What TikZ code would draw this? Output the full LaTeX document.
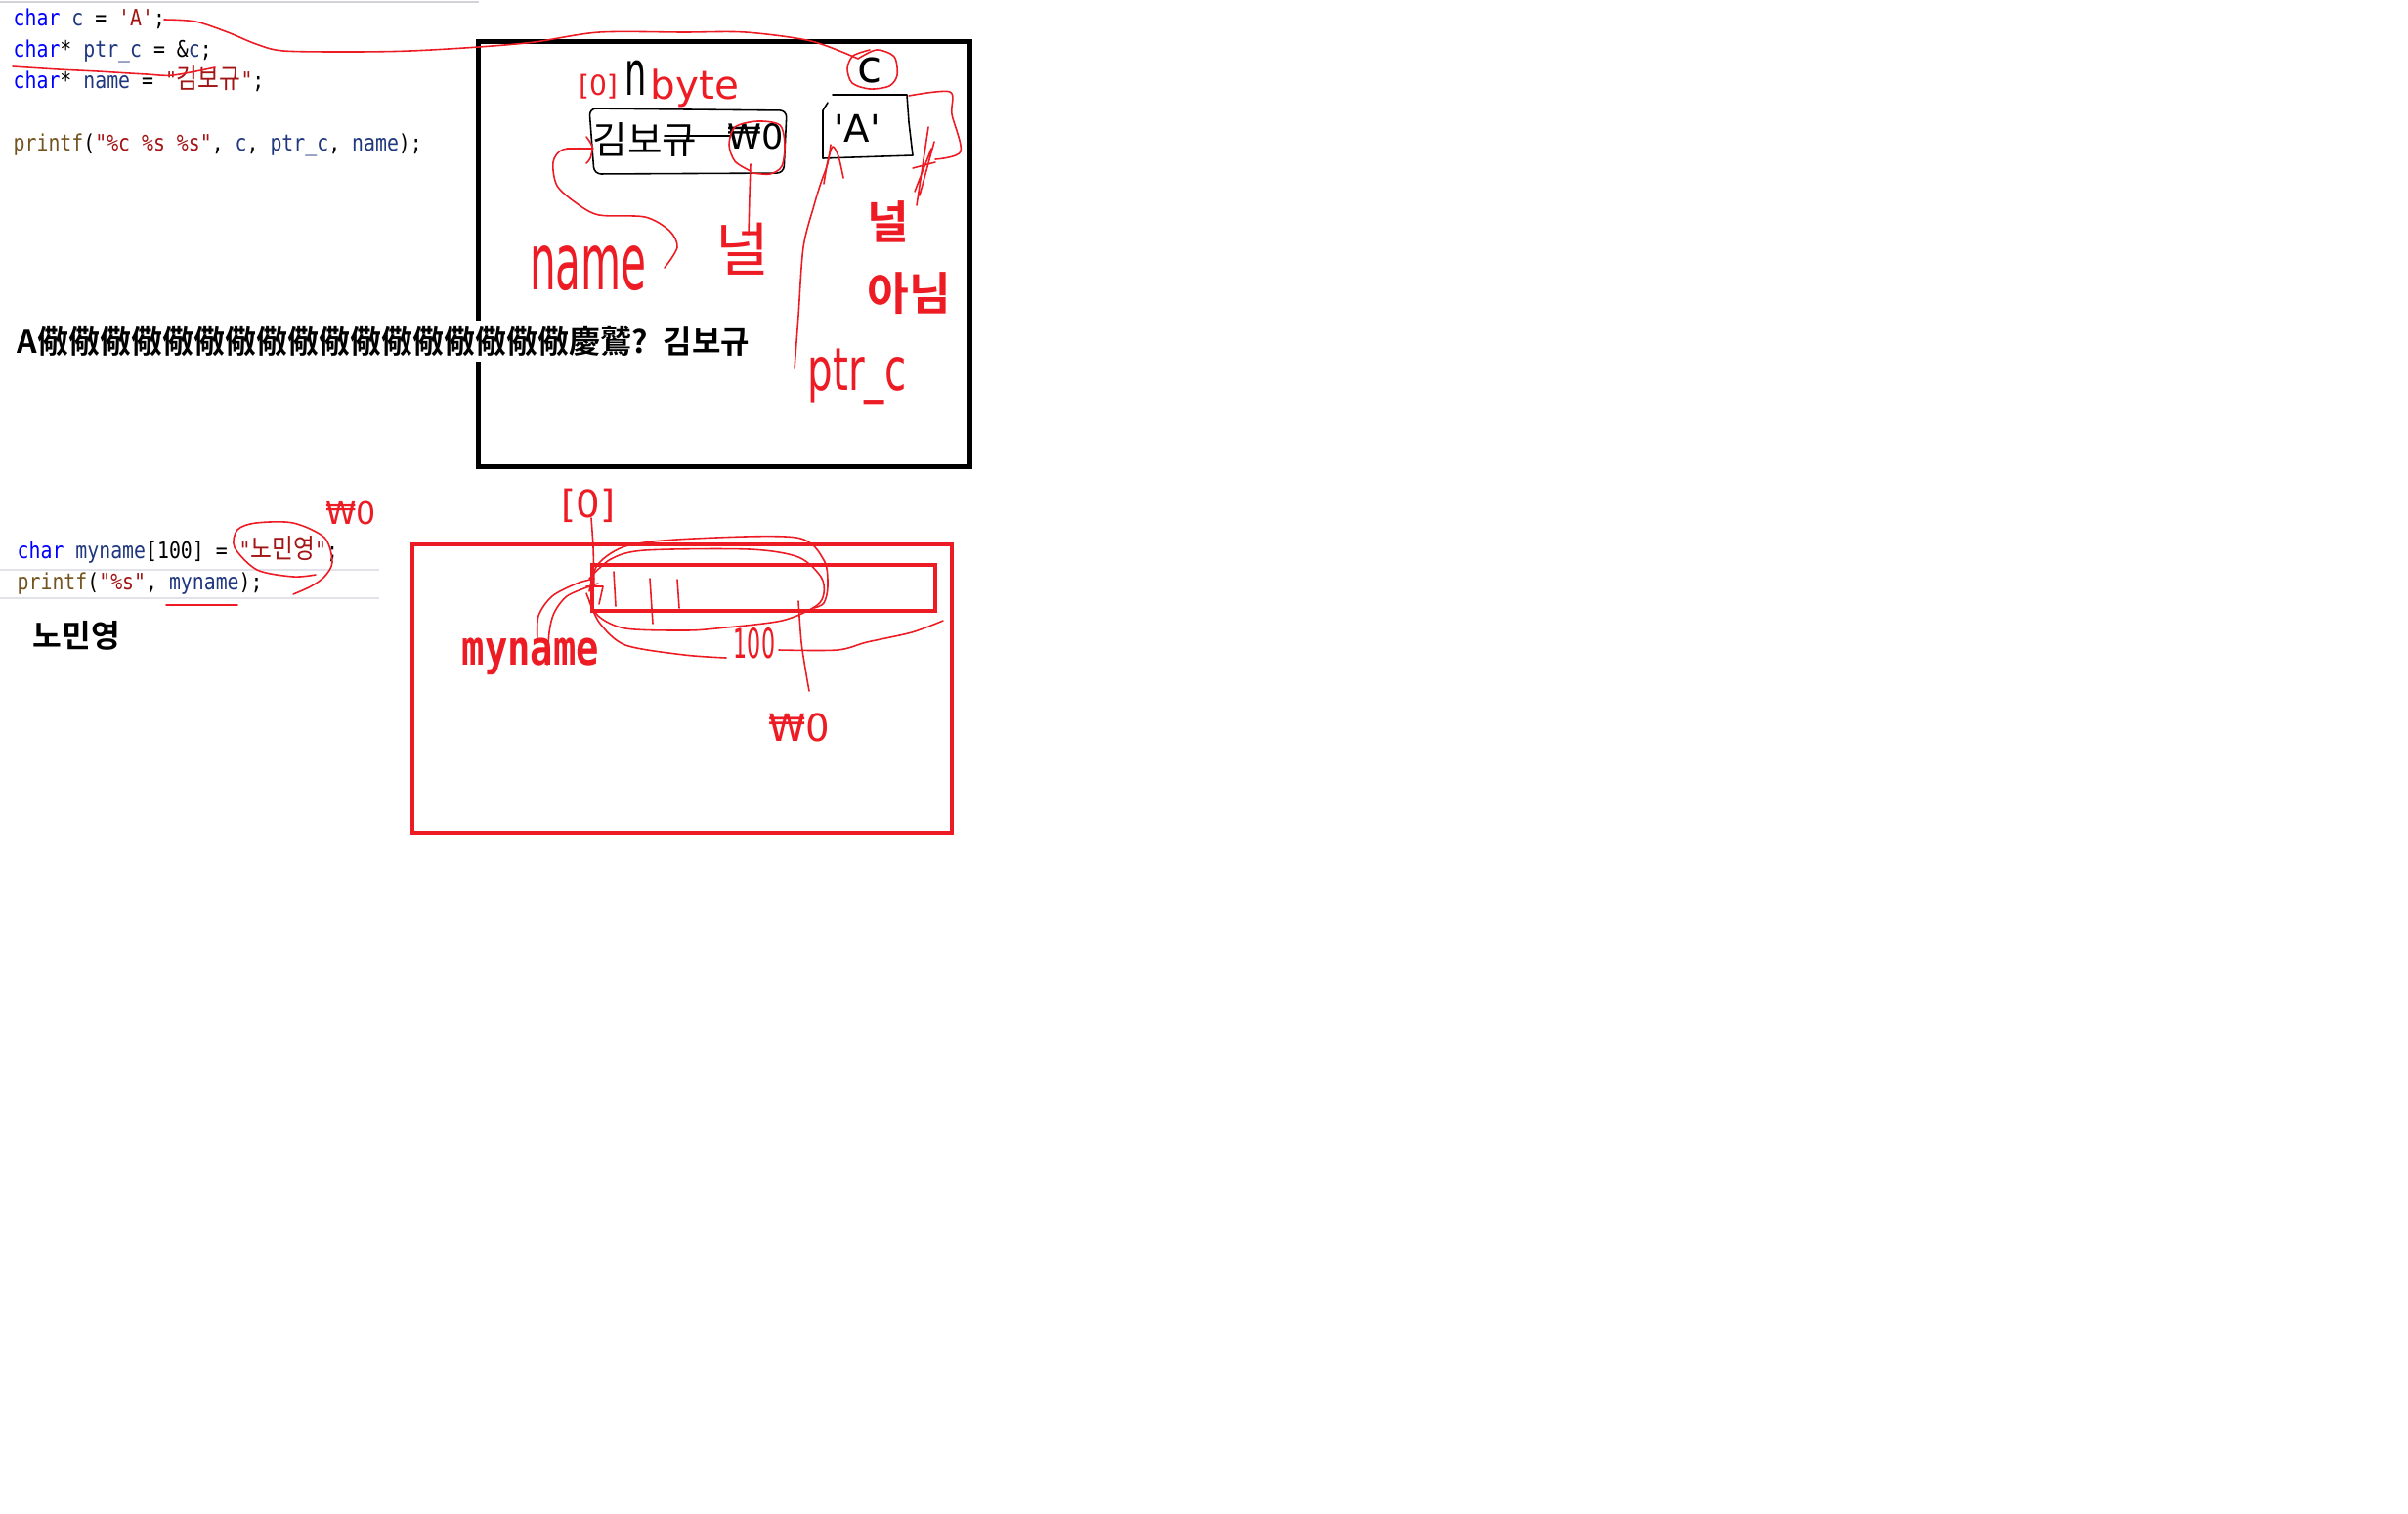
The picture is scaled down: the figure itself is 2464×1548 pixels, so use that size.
\documentclass[tikz,border=0pt]{standalone}
\usepackage{fontspec}
\usepackage{graphicx}
\newfontfamily\codefont{DejaVu Sans Mono}
\newfontfamily\krfont{Noto Sans CJK KR}[BoldFont={Noto Sans CJK KR Bold}]
\newfontfamily\handfont{DejaVu Sans}

\definecolor{kwblue}{HTML}{0000FF}
\definecolor{varnavy}{HTML}{1F377F}
\definecolor{strred}{HTML}{A31515}
\definecolor{fnbrown}{HTML}{74531F}
\definecolor{paintred}{HTML}{ED1C24}
\definecolor{edgegray}{HTML}{D2D2DA}
\definecolor{rowgray}{HTML}{E2E2EA}

% code colouring
\newcommand{\kw}[1]{\textcolor{kwblue}{#1}}
\newcommand{\vn}[1]{\textcolor{varnavy}{#1}}
\newcommand{\strlit}[1]{\textcolor{strred}{#1}}
\newcommand{\fnname}[1]{\textcolor{fnbrown}{#1}}
\newcommand{\sq}{\symbol{39}}
\newcommand{\dq}{\symbol{34}}
\newcommand{\hg}[1]{{\krfont\fontsize{7.9}{9}\selectfont #1}}
\newcommand{\codeline}[1]{\scalebox{0.855}[1]{\codefont\fontsize{6.6}{7.5}\selectfont #1}}
\newcommand{\handsz}[1]{\fontsize{#1}{#1}\selectfont}

\begin{document}
\begin{tikzpicture}[x=0.01cm,y=-0.01cm,
  code/.style={anchor=base west,inner sep=0pt},
  pen/.style={draw=paintred,line width=0.45pt,line cap=round,line join=round},
  inkpen/.style={draw=black,line width=0.45pt,line cap=round,line join=round},
  hand/.style={inner sep=0pt,text=paintred,font=\handfont},
  inkhand/.style={inner sep=0pt,text=black,font=\handfont},
  painted/.style={draw=paintred,line width=1.3pt}]
\useasboundingbox (0,0) rectangle (2464,1548);
\fill[white] (0,0) rectangle (2464,1548);

% editor, first snippet
\draw[edgegray,line width=0.45pt] (0,2) -- (490,2);
\node[code] (line1) at (13,26) {\codeline{\kw{char} \vn{c} = \strlit{\sq A\sq};}};
\node[code] (line2) at (13,58) {\codeline{\kw{char}* \vn{ptr\_c} = \&\vn{c};}};
\node[code] (line3) at (13,90) {\codeline{\kw{char}* \vn{name} = \strlit{\dq\hg{김보규}\dq};}};
\node[code] (line4) at (13,154) {\codeline{\fnname{printf}(\strlit{\dq\%c \%s \%s\dq}, \vn{c}, \vn{ptr\_c}, \vn{name});}};

% memory sketch
\draw[line width=1.42pt] (489.5,42) rectangle (992.5,477);
\node[anchor=base west,fill=white,inner xsep=0pt,inner ysep=1.6pt,
  font=\krfont\bfseries\fontsize{9.1}{10}\selectfont] (garbled) at (17,361)
  {A儆儆儆儆儆儆儆儆儆儆儆儆儆儆儆儆儆慶鷲?\hskip0.5em 김보규};

\draw[pen] plot[smooth] coordinates {(168,20) (200,22) (233,33) (262,45) (290,52) (360,53) (420,52) (490,48) (547,43) (613,33) (700,33) (763,33) (830,42) (878,60)};
\draw[pen] plot[smooth] coordinates {(13,68) (60,71) (100,73) (150,76) (177,77) (220,69)};
\draw[pen] plot[smooth] coordinates {(878,60) (897,51) (915,58) (918,77) (910,88) (890,91) (872,85) (867,70) (873,57) (890,51)};
\node[inkhand,font=\handfont\handsz{13}] (cvar) at (890,72) {c};

\draw[inkpen,rounded corners=2] (603,111) -- (805,113) -- (802,177) -- (608,178) -- cycle;
\node[hand,font=\handfont\handsz{8}] (zeroidx) at (612,89) {[0]};
\node[inkhand,font=\handfont\handsz{10}] (nletter) at (651,80) {\scalebox{1}[1.8]{n}};
\node[hand,font=\handfont\handsz{11.5}] (bytes) at (711,90) {byte};
\node[inkhand,font=\krfont\handsz{11}] (kimcells) at (660,143) {김보규};
\draw[inkpen] (680,139) -- (747,139);
\node[inkhand,font=\handfont\handsz{10}] (termA) at (773,140) {₩0};
\draw[pen] plot[smooth] coordinates {(768,175) (752,165) (746,148) (752,130) (775,124) (798,128) (803,148) (800,170) (788,178) (770,177)};
\draw[pen] plot[smooth] coordinates {(768,168) (767,200) (766,240)};
\node[hand,font=\krfont\handsz{17}] (nullhand) at (760,255) {널};
\draw[pen] (580,152) -- (607,152);
\draw[pen] plot[smooth] coordinates {(600,140) (606,150) (604,162) (600,167)};
\draw[pen] plot[smooth] coordinates {(605,152) (576,153) (566,166) (570,190) (590,208) (613,220) (660,222) (685,236) (693,253) (680,274)};
\node[hand,font=\handfont\handsz{12}] (namehand) at (602,275) {\scalebox{1}[1.9]{name}};

\draw[inkpen] (847,105) -- (842,113) -- (842,162) -- (934,159) -- (930,125) -- (928,97) -- (852,97);
\node[inkhand,font=\handfont\handsz{11}] (charA) at (877,131) {\sq A\sq};
\draw[pen] plot[smooth] coordinates {(930,98) (972,94) (974,117) (983,155) (957,163)};
\draw[pen] (950,130) -- (938,210) (956,145) -- (941,200) (953,152) -- (936,196) (934,172) -- (957,166);
\draw[pen] plot[smooth] coordinates {(843,188) (847,165) (852,150) (858,160) (863,182)};
\draw[pen] plot[smooth] coordinates {(850,148) (847,167) (840,187) (833,210) (822,253) (817,323) (813,377)};
\node[hand,font=\handfont\handsz{11.5}] (ptrhand) at (877,385) {\scalebox{1}[1.5]{ptr\_c}};

\node[anchor=base west,inner sep=0pt,text=paintred,font=\krfont\bfseries\fontsize{13.2}{14}\selectfont] (notnull) at (887,244) {널};
\node[anchor=base west,inner sep=0pt,text=paintred,font=\krfont\bfseries\fontsize{13.2}{14}\selectfont] (notnulltwo) at (887,317) {아님};

% editor, second snippet
\draw[rowgray,line width=0.55pt] (0,583) -- (388,583);
\draw[rowgray,line width=0.55pt] (0,612) -- (388,612);
\node[code] (line5) at (17,571) {\codeline{\kw{char} \vn{myname}[100] = \strlit{\dq\hg{노민영}\dq};}};
\node[code] (line6) at (17,603) {\codeline{\fnname{printf}(\strlit{\dq\%s\dq}, \vn{myname});}};
\node[anchor=base west,inner sep=0pt,font=\krfont\bfseries\fontsize{9.2}{10}\selectfont] (output) at (33,662) {노민영};

\draw[pen] plot[smooth] coordinates {(300,608) (318,600) (332,590) (340,575) (332,550) (300,535) (262,535) (243,542) (240,560) (263,583) (300,590) (323,588)};
\draw[pen] (170,619) -- (243,619);
\node[hand,font=\handfont\handsz{9}] (termB) at (359,525) {₩0};

% array sketch
\draw[painted] (422,557) rectangle (974,852);
\draw[painted] (606,578) rectangle (957,625);
\node[anchor=base west,inner sep=0pt,text=paintred] (arrlabel) at (472,680)
  {\scalebox{0.79}[1]{\codefont\bfseries\fontsize{14}{16}\selectfont myname}};
\node[hand,font=\handfont\handsz{11}] (firstidx) at (602,517) {[0]};
\draw[pen] plot[smooth] coordinates {(605,530) (607,560) (608,600)};
\draw[pen] (628,585) -- (630,620) (665,592) -- (668,638) (693,593) -- (695,622) (600,600) -- (617,600) -- (613,618);
\draw[pen] plot[smooth] coordinates {(603,605) (612,577) (643,558) (710,551) (815,550) (843,573) (847,600) (843,617) (833,622)};
\draw[pen] plot[smooth] coordinates {(603,592) (625,572) (660,563) (767,562) (817,570) (840,590) (843,607) (835,620) (800,635) (733,643) (700,645) (640,643) (612,630) (600,607)};
\draw[pen] plot[smooth] coordinates {(603,615) (614,638) (640,660) (700,670) (743,673)};
\node[hand,font=\handfont\handsz{7}] (sizehand) at (772,658) {\scalebox{0.9}[1.7]{100}};
\draw[pen] plot[smooth] coordinates {(797,665) (857,665) (887,657) (933,647) (965,635)};
\draw[pen] plot[smooth] coordinates {(817,615) (820,657) (825,690) (828,707)};
\node[hand,font=\handfont\handsz{11}] (termC) at (818,744) {₩0};
\draw[pen] plot[smooth] coordinates {(560,680) (562,647) (567,627) (580,610) (603,600) (612,597)};
\draw[pen] plot[smooth] coordinates {(550,655) (551,630) (565,610) (590,597) (608,592)};
\end{tikzpicture}
\end{document}
